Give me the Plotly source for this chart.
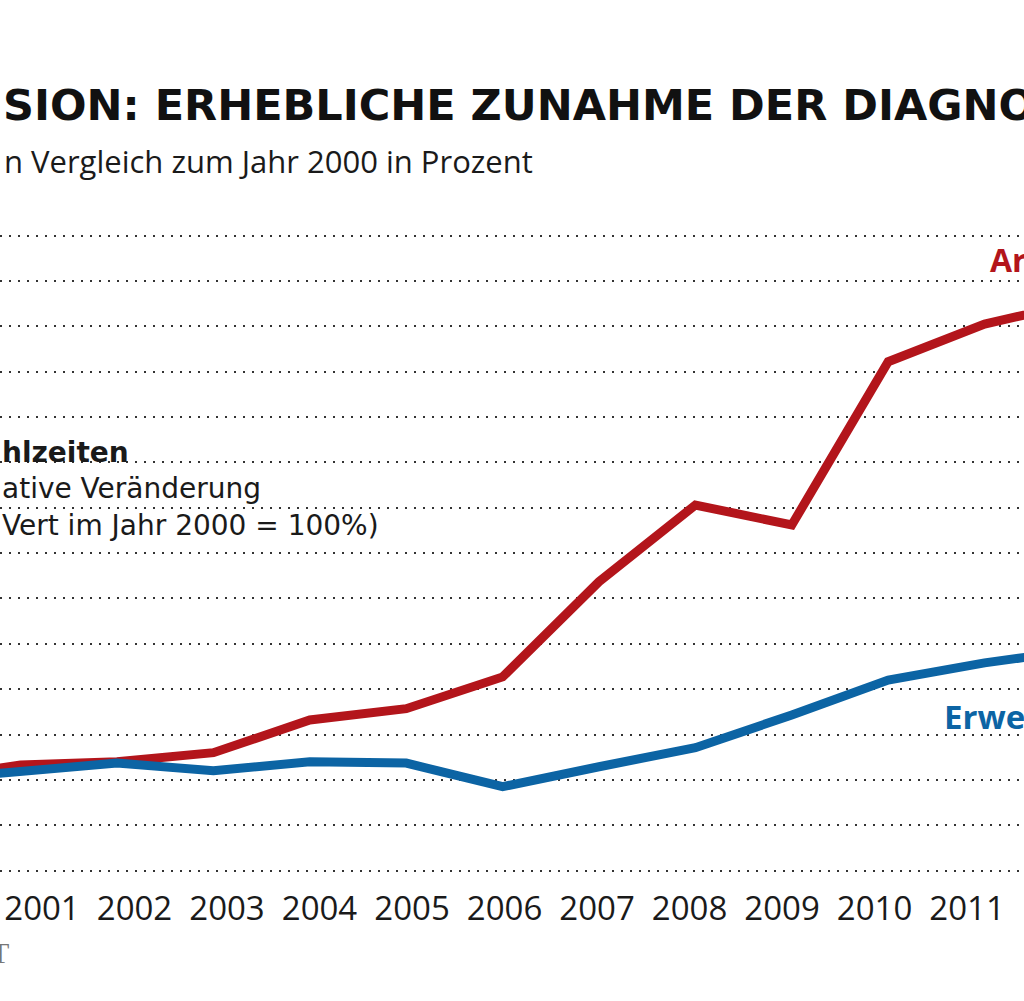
import plotly.graph_objects as go

# Relative change vs. year 2000 (2000 = 100%)
years = [2000, 2001, 2002, 2003, 2004, 2005, 2006, 2007, 2008, 2009, 2010, 2011, 2012]
red_values = [100.0, 103.3, 104.0, 106.0, 113.2, 115.7, 122.7, 143.7, 160.6, 156.2, 192.2, 200.5, 205.4]
blue_values = [100.0, 101.8, 103.7, 102.0, 104.0, 103.7, 98.5, 102.9, 107.1, 114.3, 122.0, 125.8, 128.7]
tick_years = [2001, 2002, 2003, 2004, 2005, 2006, 2007, 2008, 2009, 2010, 2011]

RED = "#b3151b"
BLUE = "#0c64a4"
FONT = "Open Sans"

W, H = 1024, 1001
TOP, BOTTOM = 213, 115
PLOT_H = H - TOP - BOTTOM


def px_x(px):
    return px / W


def px_y(py):
    return (H - BOTTOM - py) / PLOT_H


fig = go.Figure()
fig.add_trace(go.Scatter(x=years, y=red_values, mode="lines",
                         line=dict(color=RED, width=9), hoverinfo="skip"))
fig.add_trace(go.Scatter(x=years, y=blue_values, mode="lines",
                         line=dict(color=BLUE, width=9), hoverinfo="skip"))
# carrier for the label axis
fig.add_trace(go.Scatter(x=tick_years, y=[None] * len(tick_years), xaxis="x2",
                         mode="lines", hoverinfo="skip"))

fig.update_layout(
    width=W, height=H,
    margin=dict(l=0, r=0, t=TOP, b=BOTTOM),
    paper_bgcolor="white", plot_bgcolor="white",
    showlegend=False,
    xaxis=dict(range=[2000.786, 2011.409], showgrid=False, zeroline=False,
               showticklabels=False, showline=False),
    xaxis2=dict(overlaying="x", anchor="y", side="bottom",
                range=[2000.546, 2011.616], tickvals=tick_years,
                ticktext=[str(y) for y in tick_years],
                showgrid=False, zeroline=False, showline=False, ticks="",
                tickfont=dict(family=FONT, size=33, color="#1a1a1a")),
    yaxis=dict(range=[76.6, 225], dtick=10, tick0=0, showticklabels=False,
               zeroline=False, showline=False, showgrid=True,
               gridcolor="#333333", gridwidth=1.6, griddash="1.6px,7.4px"),
)

# white box behind the explanation text
fig.add_shape(type="rect", xref="paper", yref="paper",
              x0=px_x(-5), x1=px_x(408), y0=px_y(438), y1=px_y(540),
              fillcolor="white", line=dict(width=0), layer="between")

ann = []
ann.append(dict(text="<b>SION: ERHEBLICHE ZUNAHME DER DIAGNO</b>",
                x=px_x(1), y=px_y(105), xanchor="left", yanchor="middle",
                font=dict(family="DejaVu Sans", size=43, color="#111111")))
ann.append(dict(text="n Vergleich zum Jahr 2000 in Prozent",
                x=px_x(535), y=px_y(161), xanchor="right", yanchor="middle",
                font=dict(family=FONT, size=31, color="#1a1a1a")))
ann.append(dict(text="<b>hlzeiten</b><br>ative Veränderung<br>Vert im Jahr 2000 = 100%)",
                x=px_x(0), y=px_y(489), xanchor="left", yanchor="middle",
                align="left",
                font=dict(family="DejaVu Sans", size=28, color="#1a1a1a")))
ann.append(dict(text="<b>Ar</b>",
                x=px_x(988), y=px_y(259), xanchor="left", yanchor="middle",
                font=dict(family=FONT, size=32, color=RED)))
ann.append(dict(text="<b>Erwe</b>",
                x=px_x(942), y=px_y(716), xanchor="left", yanchor="middle",
                font=dict(family=FONT, size=33, color=BLUE)))
ann.append(dict(text="T",
                x=px_x(0), y=px_y(952), xanchor="center", yanchor="middle",
                font=dict(family="Liberation Serif", size=30, color="#777777")))
for a in ann:
    a.update(xref="paper", yref="paper", showarrow=False)
fig.update_layout(annotations=ann)

fig.write_html("out.html", config={"displayModeBar": False},
               post_script="document.body.style.margin='0';")
